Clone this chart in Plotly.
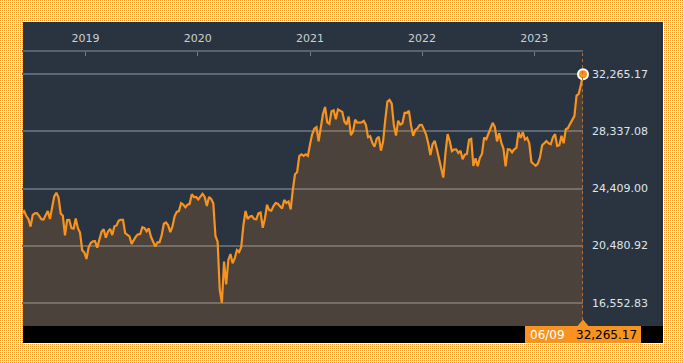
import base64
import struct
import zlib
import pandas as pd
import plotly.graph_objects as go

# ---- data: weekly closes, 2018-06-08 .. 2023-06-09 ----
first_week = "2018-06-08"
close_2018 = [22694, 22851, 22516, 22305, 21788, 22597, 22698, 22712, 22525, 22298,
              22270, 22601, 22865, 22307, 23094, 23870, 24120, 23784, 22694, 22532,
              21184, 22243, 22250, 21680, 21646, 22351, 21679, 21374, 20166, 20015]
close_2019 = [19561, 20359, 20666, 20773, 20788, 20333, 20900, 21425, 21602, 21025,
              21450, 21627, 21205, 21807, 21870, 22200, 22258, 22258, 21344, 21250,
              21117, 20601, 20884, 21116, 21258, 21275, 21746, 21685, 21466, 21658,
              21087, 20684, 20418, 20710, 20704, 21199, 21988, 22079, 21878, 21410,
              21799, 22492, 22800, 22851, 23391, 23303, 23113, 23294, 23354, 24023,
              23816, 23837]
close_2020 = [23657, 23850, 24041, 23827, 23205, 23828, 23688, 23387, 21143, 20750,
              17431, 16552.83, 19389, 17820, 19499, 19897, 19262, 19619, 20179, 20037,
              20388, 21878, 22863, 22305, 22479, 22512, 22306, 22291, 22696, 22751,
              21710, 22329, 23289, 22920, 22883, 23206, 23406, 23360, 23205, 23030,
              23620, 23411, 23517, 22977, 24325, 25386, 25527, 26645, 26751, 26653,
              26763, 26657]
close_2021 = [27444, 28139, 28519, 28631, 27663, 28779, 29520, 30018, 28966, 28864,
              29717, 29792, 29176, 29854, 29768, 29683, 29021, 28813, 29358, 28084,
              28318, 29149, 28942, 28949, 28964, 29066, 28783, 27940, 28003, 27548,
              27284, 27820, 27977, 27013, 27641, 29128, 30382, 30500, 30249, 28771,
              28049, 29069, 28805, 28893, 29612, 29610, 29746, 28752, 28030, 28438,
              28546, 28782, 28792]
close_2022 = [28479, 28124, 27522, 26717, 27440, 27696, 27122, 26477, 25985, 25163,
              26828, 28150, 27666, 26985, 27093, 27105, 26848, 27004, 26428, 26739,
              26782, 27762, 27824, 25963, 26491, 25936, 26517, 26788, 27915, 27802,
              28176, 28547, 28930, 28642, 27651, 28215, 27568, 27154, 25937, 27116,
              27091, 26891, 27105, 27200, 28264, 27900, 28283, 27778, 27901, 27527,
              26236, 26095]
close_2023 = [25974, 26120, 26554, 27383, 27510, 27671, 27513, 27454, 27927, 28144,
              27334, 27385, 28041, 27518, 28493, 28564, 28856, 29158, 29388, 30808,
              30916, 31524, 32265.17]

closes = close_2018 + close_2019 + close_2020 + close_2021 + close_2022 + close_2023
dates = pd.date_range(first_week, periods=len(closes), freq="W-FRI")

year_ticks = ["2019-01-01", "2020-01-01", "2021-01-01", "2022-01-01", "2023-01-01"]
year_labels = ["2019", "2020", "2021", "2022", "2023"]

lo, hi = min(closes), max(closes)
y_ticks = [lo + i * (hi - lo) / 4 for i in range(5)]
y_labels = [f"{v:,.2f}" for v in y_ticks]
last_label_date = dates[-1].strftime("%m/%d")
last_label_value = f"{closes[-1]:,.2f}"

# ---- geometry (pixels) ----
W, H = 684, 363
ML, MR, MT, MB = 22, 101, 52, 37
PW, PH = W - ML - MR, H - MT - MB


def px(x):
    return (x - ML) / PW


def py(y):
    return (H - MB - y) / PH


ORANGE = "#f7931e"
NAVY = "#2a3440"
FONT = "DejaVu Sans"


# dotted frame background as an exact-size PNG (1px orange dot every 2px)
def dotted_png(w, h, rgb):
    rows = []
    white = bytes((255, 255, 255))
    dot = bytes(rgb)
    for yy in range(h):
        row = bytearray(b"\x00")
        for xx in range(w):
            row += dot if (xx % 2 == 0 and yy % 2 == 0) else white
        rows.append(bytes(row))
    raw = b"".join(rows)

    def chunk(tag, data):
        c = tag + data
        return struct.pack(">I", len(data)) + c + struct.pack(">I", zlib.crc32(c) & 0xffffffff)

    png = b"\x89PNG\r\n\x1a\n"
    png += chunk(b"IHDR", struct.pack(">IIBBBBB", w, h, 8, 2, 0, 0, 0))
    png += chunk(b"IDAT", zlib.compress(raw, 9))
    png += chunk(b"IEND", b"")
    return "data:image/png;base64," + base64.b64encode(png).decode()


bg_uri = dotted_png(W, H, (247, 147, 30))

fig = go.Figure()
fig.add_trace(go.Scatter(
    x=dates, y=closes, mode="lines",
    line=dict(color=ORANGE, width=2.2),
    fill="tozeroy", fillcolor="rgba(247,147,30,0.155)",
    hoverinfo="skip", showlegend=False,
))
fig.add_trace(go.Scatter(
    x=[dates[-1]], y=[closes[-1]], mode="markers",
    marker=dict(size=10, color=ORANGE, line=dict(color="#ffffff", width=2)),
    hoverinfo="skip", showlegend=False, cliponaxis=False,
))

shapes = [
    # dark panel
    dict(type="rect", xref="paper", yref="paper", x0=px(23), x1=px(663), y0=py(343), y1=py(22),
         fillcolor=NAVY, line=dict(width=0), layer="below"),
    # black bottom bar
    dict(type="rect", xref="paper", yref="paper", x0=px(23), x1=px(663), y0=py(343), y1=py(326),
         fillcolor="#000000", line=dict(width=0), layer="below"),
    # orange value box
    dict(type="rect", xref="paper", yref="paper", x0=px(525), x1=px(641), y0=py(343), y1=py(326),
         fillcolor=ORANGE, line=dict(width=0), layer="above"),
    # pointer triangle
    dict(type="path", xref="paper", yref="paper",
         path=f"M {px(577.5)},{py(326)} L {px(583)},{py(319.5)} L {px(588.5)},{py(326)} Z",
         fillcolor=ORANGE, line=dict(width=0), layer="above"),
    # dotted vertical line at last point
    dict(type="line", xref="x", yref="paper", x0=dates[-1], x1=dates[-1], y0=py(320), y1=py(52),
         line=dict(color="#b86c26", width=2, dash="dot"), layer="above"),
]

annotations = [
    dict(xref="paper", yref="paper", x=px(547), y=py(334.5), text=last_label_date,
         showarrow=False, font=dict(family=FONT, size=12, color="#ffffff"),
         xanchor="center", yanchor="middle"),
    dict(xref="paper", yref="paper", x=px(606), y=py(334.5), text=last_label_value,
         showarrow=False, font=dict(family=FONT, size=12, color="#000000"),
         xanchor="center", yanchor="middle"),
]

fig.update_layout(
    width=W, height=H,
    margin=dict(l=ML, r=MR, t=MT, b=MB, pad=0),
    paper_bgcolor="#ffffff", plot_bgcolor=NAVY,
    font=dict(family=FONT, size=11, color="#dfe5eb"),
    shapes=shapes, annotations=annotations,
    images=[dict(source=bg_uri, xref="paper", yref="paper", x=px(0), y=py(0),
                 sizex=W / PW, sizey=H / PH, xanchor="left", yanchor="top",
                 sizing="stretch", layer="below")],
    xaxis=dict(
        side="top", range=[dates[0], dates[-1]], type="date",
        tickvals=year_ticks, ticktext=year_labels,
        ticks="inside", ticklen=4, tickwidth=1, tickcolor="#737a82",
        showline=True, linecolor="#5b6169", linewidth=2,
        showgrid=False, zeroline=False,
        tickfont=dict(family=FONT, size=11, color="#c9d0d7"),
        ticklabelstandoff=4, fixedrange=True,
    ),
    yaxis=dict(
        side="right", range=[14950, 33800],
        tickvals=y_ticks, ticktext=y_labels,
        showgrid=True, gridcolor="#5f6770", gridwidth=2,
        zeroline=False, showline=False, ticks="",
        tickfont=dict(family=FONT, size=11, color="#dfe5eb"),
        ticklabelstandoff=8, fixedrange=True,
    ),
)

fig.write_html(
    "out.html",
    config={"displayModeBar": False},
    post_script="document.body.style.margin='0';document.body.style.overflow='hidden';",
)
